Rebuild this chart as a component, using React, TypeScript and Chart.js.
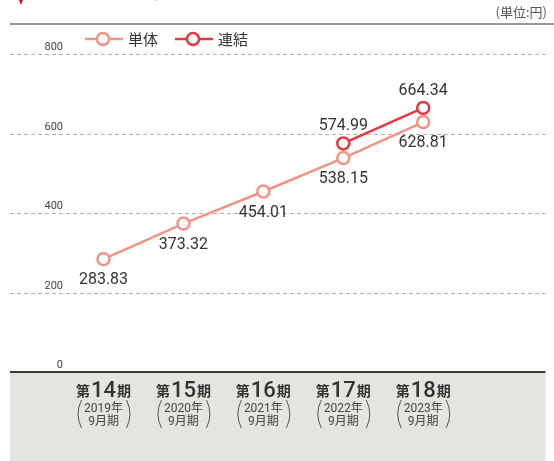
import React, { useEffect, useRef } from "react";
import { Chart, registerables } from "chart.js";

Chart.register(...registerables);

const periods = ["14", "15", "16", "17", "18"];
const years = ["2019", "2020", "2021", "2022", "2023"];
const standalone = [283.83, 373.32, 454.01, 538.15, 628.81];
const consolidated = [null, null, null, 574.99, 664.34];
const yTicks = [0, 200, 400, 600, 800];
const seriesNames = ["単体", "連結"];
const unitLabel = "(単位:円)";
const titleText = "1株当たり純資産";

const C1 = "#f39385";
const C2 = "#e8383d";
const FONT = "Roboto, 'Noto Sans CJK JP', sans-serif";
const JP = "'Noto Sans CJK JP', Roboto, sans-serif";

const decor = {
  id: "decor",
  beforeDatasetsDraw(chart: any) {
    const { ctx, chartArea, width, height } = chart;
    const y = chart.scales.y;
    ctx.save();
    // bottom band
    ctx.fillStyle = "#e6e4df";
    ctx.fillRect(chartArea.left, chartArea.bottom, chartArea.right - chartArea.left, height - chartArea.bottom);
    // title fragments (cut off at top)
    ctx.fillStyle = "#e60012";
    ctx.beginPath();
    ctx.moveTo(17.5, -4);
    ctx.lineTo(24.5, -4);
    ctx.lineTo(21, 5);
    ctx.closePath();
    ctx.fill();
    ctx.fillStyle = "#555";
    ctx.font = `bold 20px ${JP}`;
    ctx.textBaseline = "alphabetic";
    ctx.textAlign = "left";
    ctx.fillText(titleText, 60, -2.5);
    // top rule
    ctx.strokeStyle = "#9a9a9a";
    ctx.lineWidth = 2;
    ctx.beginPath();
    ctx.moveTo(chartArea.left, 24);
    ctx.lineTo(width, 24);
    ctx.stroke();
    // unit
    ctx.fillStyle = "#555";
    ctx.font = `13px ${JP}`;
    ctx.textAlign = "right";
    ctx.textBaseline = "middle";
    ctx.fillText(unitLabel, 547, 12);
    // grid
    ctx.strokeStyle = "#b0b0b0";
    ctx.lineWidth = 1;
    ctx.setLineDash([4, 3]);
    yTicks.forEach((v) => {
      if (v === 0) return;
      const py = Math.round(y.getPixelForValue(v)) + 0.5;
      ctx.beginPath();
      ctx.moveTo(chartArea.left, py);
      ctx.lineTo(chartArea.right, py);
      ctx.stroke();
    });
    ctx.setLineDash([]);
    // tick labels
    ctx.fillStyle = "#444";
    ctx.font = `11px ${FONT}`;
    ctx.textAlign = "right";
    ctx.textBaseline = "alphabetic";
    yTicks.forEach((v) => {
      const py = y.getPixelForValue(v);
      ctx.fillText(String(v), 63, py - 4);
    });
    // legend
    const items = [
      { x0: 85, color: C1, text: seriesNames[0] },
      { x0: 175, color: C2, text: seriesNames[1] },
    ];
    items.forEach((it) => {
      const ly = 39;
      ctx.strokeStyle = it.color;
      ctx.lineWidth = 2.5;
      ctx.beginPath();
      ctx.moveTo(it.x0, ly);
      ctx.lineTo(it.x0 + 38, ly);
      ctx.stroke();
      ctx.fillStyle = "#fff";
      ctx.beginPath();
      ctx.arc(it.x0 + 18, ly, 6, 0, Math.PI * 2);
      ctx.fill();
      ctx.stroke();
      ctx.fillStyle = "#333";
      ctx.font = `15px ${JP}`;
      ctx.textAlign = "left";
      ctx.textBaseline = "middle";
      ctx.fillText(it.text, it.x0 + 43, ly);
    });
    // band top line
    ctx.strokeStyle = "#3a3a3a";
    ctx.lineWidth = 2;
    ctx.beginPath();
    ctx.moveTo(chartArea.left, chartArea.bottom);
    ctx.lineTo(chartArea.right, chartArea.bottom);
    ctx.stroke();
    // x labels
    const xs = chart.scales.x;
    periods.forEach((p, i) => {
      const cx = xs.getPixelForValue(i);
      ctx.textBaseline = "alphabetic";
      ctx.textAlign = "left";
      ctx.font = `bold 14px ${JP}`;
      const w1 = ctx.measureText("第").width;
      const w3 = ctx.measureText("期").width;
      ctx.font = `500 22px ${FONT}`;
      const w2 = ctx.measureText(p).width;
      const total = w1 + w2 + w3 + 2;
      let sx = cx - total / 2;
      ctx.fillStyle = "#333";
      ctx.font = `bold 14px ${JP}`;
      ctx.fillText("第", sx, 396);
      sx += w1 + 1;
      ctx.font = `500 22px ${FONT}`;
      ctx.fillText(p, sx, 397);
      sx += w2 + 1;
      ctx.font = `bold 14px ${JP}`;
      ctx.fillText("期", sx, 396);
      ctx.fillStyle = "#444";
      ctx.textAlign = "center";
      ctx.font = `12px ${FONT}`;
      ctx.fillText(`${years[i]}年`, cx, 412);
      ctx.fillText("9月期", cx, 425);
      ctx.strokeStyle = "#555";
      ctx.lineWidth = 1;
      ctx.beginPath();
      ctx.moveTo(cx - 22, 400);
      ctx.quadraticCurveTo(cx - 29, 414, cx - 22, 428);
      ctx.moveTo(cx + 23, 400);
      ctx.quadraticCurveTo(cx + 30, 414, cx + 23, 428);
      ctx.stroke();
    });
    ctx.restore();
  },
  afterDatasetsDraw(chart: any) {
    const { ctx } = chart;
    ctx.save();
    ctx.fillStyle = "#333";
    ctx.font = `16px ${FONT}`;
    ctx.textAlign = "center";
    ctx.textBaseline = "middle";
    const m0 = chart.getDatasetMeta(0);
    m0.data.forEach((pt: any, i: number) => {
      const v = standalone[i];
      if (v == null) return;
      ctx.fillText(v.toFixed(2), pt.x, pt.y + 21);
    });
    const m1 = chart.getDatasetMeta(1);
    m1.data.forEach((pt: any, i: number) => {
      const v = consolidated[i];
      if (v == null) return;
      ctx.fillText(v.toFixed(2), pt.x, pt.y - 17);
    });
    ctx.restore();
  },
};

export default function App() {
  const ref = useRef<HTMLCanvasElement>(null);
  useEffect(() => {
    const chart = new Chart(ref.current as HTMLCanvasElement, {
      type: "line",
      data: {
        datasets: [
          {
            label: seriesNames[0],
            data: standalone.map((v, i) => ({ x: i, y: v })),
            borderColor: C1,
            backgroundColor: "#fff",
            pointBackgroundColor: "#fff",
            pointBorderColor: C1,
            borderWidth: 2.5,
            pointRadius: 6,
            pointBorderWidth: 2.5,
            tension: 0,
          },
          {
            label: seriesNames[1],
            data: consolidated.map((v, i) => ({ x: i, y: v })),
            borderColor: C2,
            backgroundColor: "#fff",
            pointBackgroundColor: "#fff",
            pointBorderColor: C2,
            borderWidth: 2.5,
            pointRadius: 6,
            pointBorderWidth: 2.5,
            tension: 0,
          },
        ],
      },
      options: {
        responsive: false,
        animation: false,
        devicePixelRatio: 1,
        layout: { padding: { left: 10, right: 0, top: 54, bottom: 89 } },
        scales: {
          x: { type: "linear", min: -1.17, max: 5.53, display: false },
          y: { min: 0, max: 800, display: false },
        },
        plugins: { legend: { display: false }, tooltip: { enabled: false } },
      },
      plugins: [decor],
    } as any);
    return () => chart.destroy();
  }, []);
  return (
    <div style={{ position: "absolute", left: 0, top: 0, width: 554, height: 461 }}>
      <canvas ref={ref} width={554} height={461} style={{ width: 554, height: 461, display: "block" }} />
    </div>
  );
}
